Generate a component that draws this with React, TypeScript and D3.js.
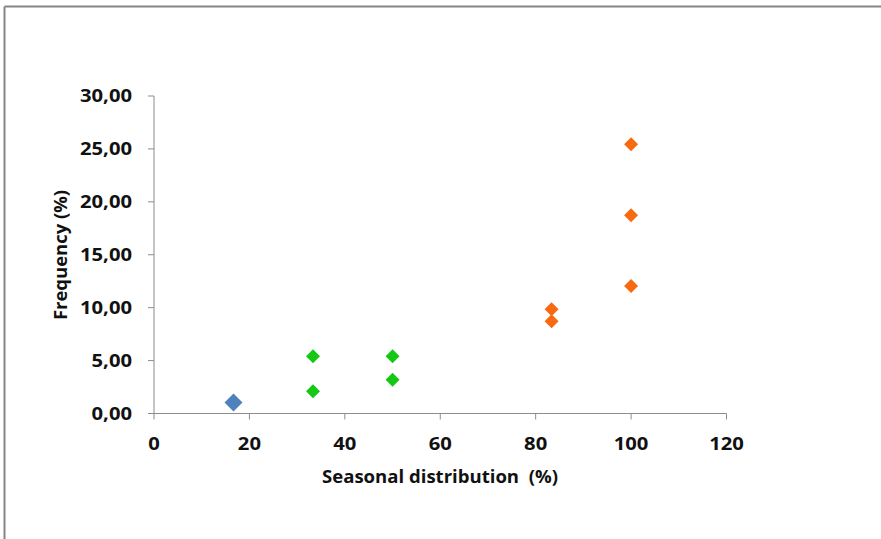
import React from "react";
import * as d3 from "d3";

const xTicks = [0, 20, 40, 60, 80, 100, 120];
const yTicks = [0, 5, 10, 15, 20, 25, 30];

const blueX = [16.67];
const blueY = [1.05];
const greenX = [33.33, 33.33, 50, 50];
const greenY = [5.42, 2.1, 5.42, 3.2];
const orangeX = [83.33, 83.33, 100, 100, 100];
const orangeY = [9.85, 8.72, 25.43, 18.73, 12.05];

const W = 881;
const H = 539;

export default function App() {
  const x = d3.scaleLinear().domain([0, 120]).range([154, 726.5]);
  const y = d3.scaleLinear().domain([0, 30]).range([413.5, 96]);
  const fmt = (v: number) => v.toFixed(2).replace(".", ",");
  const font = "'Open Sans', 'DejaVu Sans', sans-serif";
  const axisColor = "#8c8c8c";
  const sx = 1.19;
  const fs = 17;

  const diamond = (cx: number, cy: number, r: number) =>
    `M${cx},${cy - r}L${cx + r},${cy}L${cx},${cy + r}L${cx - r},${cy}Z`;

  const series = [
    { xs: blueX, ys: blueY, color: "#4F81BD", r: 9 },
    { xs: greenX, ys: greenY, color: "#14C814", r: 7 },
    { xs: orangeX, ys: orangeY, color: "#F76A0F", r: 7 },
  ];

  return (
    <svg
      width={W}
      height={H}
      style={{ position: "absolute", left: 0, top: 0, background: "#fff" }}
    >
      <rect x={0} y={0} width={W} height={H} fill="#fff" />
      <line x1={4.5} y1={6.5} x2={W} y2={6.5} stroke="#858585" strokeWidth={2} />
      <line x1={4.5} y1={6.5} x2={4.5} y2={H} stroke="#858585" strokeWidth={2} />

      {/* y axis */}
      <line x1={x(0)} y1={y(30)} x2={x(0)} y2={y(0)} stroke={axisColor} strokeWidth={1} />
      {yTicks.map((t) => (
        <g key={"y" + t}>
          <line x1={x(0) - 6} y1={y(t)} x2={x(0)} y2={y(t)} stroke={axisColor} />
          <text
            transform={`translate(132,${y(t) + 6}) scale(${sx},1)`}
            textAnchor="end"
            fontFamily={font}
            fontWeight="bold"
            fontSize={fs}
            fill="#111"
          >
            {fmt(t)}
          </text>
        </g>
      ))}

      {/* x axis */}
      <line x1={x(0)} y1={y(0)} x2={x(120)} y2={y(0)} stroke={axisColor} strokeWidth={1} />
      {xTicks.map((t) => (
        <g key={"x" + t}>
          <line x1={x(t)} y1={y(0)} x2={x(t)} y2={y(0) + 6} stroke={axisColor} />
          <text
            transform={`translate(${x(t)},449.5) scale(${sx},1)`}
            textAnchor="middle"
            fontFamily={font}
            fontWeight="bold"
            fontSize={fs}
            fill="#111"
          >
            {t}
          </text>
        </g>
      ))}

      <text
        x={322}
        y={483}
        textLength={236}
        lengthAdjust="spacingAndGlyphs"
        fontFamily={font}
        fontWeight="bold"
        fontSize={fs}
        fill="#111"
        style={{ whiteSpace: "pre" }}
      >
        Seasonal distribution  (%)
      </text>
      <text
        transform={`translate(67,320) rotate(-90)`}
        textLength={130}
        lengthAdjust="spacingAndGlyphs"
        fontFamily={font}
        fontWeight="bold"
        fontSize={fs}
        fill="#111"
      >
        Frequency (%)
      </text>

      {series.map((s, i) =>
        s.xs.map((xv, j) => (
          <path key={i + "-" + j} d={diamond(x(xv), y(s.ys[j]), s.r)} fill={s.color} />
        ))
      )}
    </svg>
  );
}
